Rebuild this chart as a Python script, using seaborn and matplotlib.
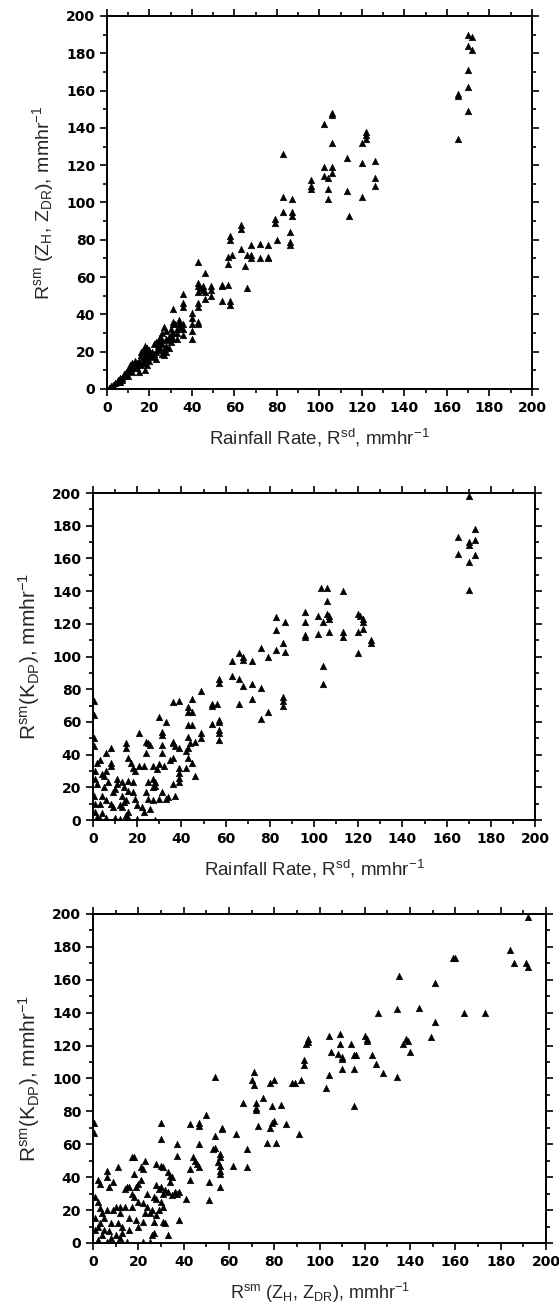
import numpy as np
import pandas as pd
import matplotlib
matplotlib.use("Agg")
import matplotlib.pyplot as plt
from matplotlib.ticker import MultipleLocator
import seaborn as sns

# panel 1: R_sm(ZH, ZDR) vs rainfall rate R_sd
rsd_a = [165, 165, 165, 170, 172, 170, 172, 170, 170, 170,
         102, 106, 106, 106, 102, 102, 104, 106, 106, 104, 104,
         113, 113, 114, 120, 120, 120, 122, 122, 122, 126, 126, 126,
         96, 96, 96, 83, 83, 83, 87, 87, 87, 86, 86, 86, 79, 79, 80,
         63, 63, 63, 58, 58, 57, 59, 57, 57, 58, 58,
         66, 65, 66, 68, 68, 68, 72, 72, 76, 76, 76,
         54, 54, 54, 49, 49, 49, 46, 46, 46, 45, 43, 43, 43, 43, 43, 43, 43, 43, 44, 45,
         40, 40, 40, 40, 40, 36, 36, 36, 36, 36, 36, 34, 34, 31, 31, 31, 31, 31, 33, 33,
         18, 18, 17, 16, 15, 13, 12, 10, 8, 20, 22, 23, 24, 25, 26, 27, 28, 25, 26, 27,
         28, 29, 30, 29, 20, 19, 18, 15, 14, 12, 10, 7, 5, 3, 2, 1, 6, 9, 11, 14,
         16, 17, 19, 21, 22, 24, 26, 28, 30, 32, 33, 35, 4, 5, 7, 8, 9, 11, 13, 23,
         18, 19, 17, 16, 24, 25, 26, 27, 29, 30, 28, 12, 13, 14, 21, 23, 20, 17, 19, 6]
rzz_a = [157, 158, 134, 190, 189, 184, 182, 171, 162, 149,
         142, 148, 147, 132, 119, 114, 113, 119, 116, 107, 102,
         124, 106, 93, 132, 121, 103, 138, 136, 134, 122, 113, 109,
         112, 109, 107, 126, 103, 95, 102, 95, 93, 84, 79, 77, 91, 89, 80,
         88, 86, 75, 82, 80, 71, 72, 67, 56, 47, 45,
         72, 66, 54, 77, 72, 70, 78, 70, 77, 71, 70,
         56, 55, 47, 55, 53, 50, 62, 52, 48, 55, 68, 57, 55, 52, 46, 44, 36, 35, 54, 53,
         41, 38, 35, 31, 27, 51, 46, 44, 35, 32, 29, 37, 35, 43, 36, 35, 30, 27, 32, 27,
         23, 21, 20, 18, 15, 15, 12, 10, 8, 18, 19, 16, 25, 28, 30, 33, 31, 22, 19, 18,
         23, 28, 25, 22, 15, 13, 10, 9, 11, 9, 7, 5, 4, 2, 1.5, 0.5, 6, 8, 13, 14,
         13, 17, 16, 20, 24, 21, 26, 27, 32, 35, 30, 33, 3, 5, 6, 7, 9, 10, 12, 20,
         19, 17, 15, 20, 23, 27, 24, 21, 26, 29, 20, 14, 11, 13, 17, 25, 21, 14, 22, 4]

# panel 2: R_sm(KDP) vs rainfall rate R_sd
rsd_b = [170, 165, 165, 170, 170, 170, 170, 173, 173, 173,
         103, 106, 113, 106, 102, 106, 107, 107, 104, 96, 96, 96, 96, 102, 107, 113, 113, 104, 104,
         120, 121, 122, 122, 122, 120, 120, 126, 126,
         83, 83, 87, 86, 87, 83, 86, 86, 86, 76, 79, 76, 79, 76,
         63, 66, 68, 68, 72, 63, 66, 68, 72, 66, 72,
         57, 57, 57, 57, 57, 57, 57, 54, 56, 54, 54,
         36, 39, 43, 45, 49, 43, 45, 43, 45, 46, 43, 44, 43, 42, 43, 42, 45, 46, 49, 49,
         39, 39, 39, 39, 39, 36, 36, 37, 36, 35, 36, 37,
         30, 33, 31, 31, 31, 31, 30, 32, 31, 30, 33, 34,
         21, 24, 25, 26, 24, 21, 23, 27, 29, 27, 25, 28, 28, 27, 24, 25, 27, 26, 22, 23,
         15, 15, 16, 17, 18, 19, 13, 11, 16, 14, 16, 18, 19, 15, 10, 12, 13, 16, 15, 16,
         6, 8, 8, 8, 6, 3, 2, 4, 1, 2, 5, 7, 4, 6, 3, 8, 9, 1, 4, 2,
         0.5, 0.5, 0.5, 0.5, 1, 0.5, 1, 3, 6, 10, 12, 20, 28, 5, 9, 11, 13, 14, 18, 20]
rkdp_b = [198, 173, 163, 170, 168, 158, 141, 178, 171, 162,
          142, 142, 140, 134, 125, 126, 125, 123, 121, 127, 121, 113, 112, 114, 115, 115, 112, 94, 83,
          126, 125, 123, 121, 117, 115, 102, 110, 108,
          124, 116, 121, 108, 103, 104, 75, 73, 70, 105, 100, 81, 66, 62,
          97, 102, 100, 98, 97, 88, 86, 82, 83, 71, 74,
          86, 84, 61, 60, 55, 53, 49, 71, 71, 70, 59,
          72, 73, 69, 74, 79, 66, 66, 58, 58, 48, 51, 47, 44, 42, 38, 32, 35, 27, 53, 50,
          44, 32, 29, 26, 23, 48, 47, 45, 38, 37, 22, 15,
          63, 60, 54, 52, 46, 41, 34, 33, 17, 13, 13, 14,
          53, 48, 47, 46, 41, 33, 33, 33, 31, 25, 23, 23, 21, 20, 17, 13, 12, 7, 8, 5,
          47, 44, 38, 35, 32, 30, 23, 22, 24, 20, 18, 17, 13, 12, 19, 9, 8, 5, 3, 1,
          41, 44, 35, 33, 30, 37, 35, 28, 25, 22, 20, 23, 15, 12, 10, 10, 8, 5, 4, 2,
          73, 64, 45, 50, 30, 15, 10, 0.5, 1, 1, 0.5, 0.5, 0.3, 27, 17, 25, 15, 11, 23, 9]

# panel 3: R_sm(KDP) vs R_sm(ZH, ZDR)
rzz_c = [192, 184, 186, 191, 192, 159, 160, 135, 151, 164, 173, 126, 134, 144, 151, 149,
         138, 139, 137, 140, 134,
         120, 121, 121, 123, 125, 128, 115, 116, 114, 115, 115,
         104, 109, 109, 105, 108, 110, 110, 110, 103, 104, 95, 95, 94, 93, 93, 92, 91, 88, 89,
         71, 70, 71, 72, 72, 72, 75, 78, 78, 79, 80, 79, 80, 83, 85, 73, 77, 81, 66, 68, 68, 63, 62,
         54, 50, 47, 47, 43, 47, 37, 37, 54, 54, 53, 56, 56, 55, 56, 56, 56, 57, 57, 43, 44,
         45, 46, 47, 43, 51, 51, 56, 41, 38,
         30, 30, 30, 28, 31, 33, 34, 35, 34, 28, 29, 30, 32, 33, 31, 36, 37, 30, 31, 31,
         32, 27, 26, 33, 29, 27, 28, 24, 26, 25, 27,
         17, 18, 23, 21, 22, 18, 11, 6, 6, 9, 2, 3, 7, 14, 15, 16, 19, 20, 21, 17, 18, 20,
         22, 24, 10, 12, 14, 17, 6, 9, 12, 16, 19, 22, 20, 11, 13, 8, 5, 4, 2, 8, 10, 12,
         0.5, 0.5, 1, 2, 3, 4, 1, 3, 5, 1, 2, 15, 22, 25, 6, 13, 7, 16, 23, 28, 35, 38]
rkdp_c = [198, 178, 170, 170, 168, 173, 173, 162, 158, 140, 140, 140, 142, 143, 134, 125,
          124, 123, 121, 116, 101,
          126, 124, 123, 114, 109, 103, 114, 114, 121, 106, 83,
          126, 127, 121, 116, 115, 113, 112, 106, 94, 102, 124, 122, 121, 111, 108, 99, 66, 97, 97,
          104, 99, 96, 85, 82, 81, 88, 97, 70, 83, 74, 73, 99, 84, 72, 71, 61, 61, 85, 57, 46, 66, 47,
          101, 78, 73, 71, 72, 60, 60, 53, 65, 58, 57, 54, 52, 49, 47, 44, 42, 70, 69, 45, 52,
          50, 48, 46, 38, 37, 26, 34, 27, 14,
          73, 63, 47, 48, 46, 43, 41, 40, 37, 35, 33, 34, 32, 31, 30, 31, 30, 25, 22, 13,
          12, 6, 5, 5, 20, 28, 27, 30, 20, 18, 13,
          52, 52, 50, 46, 45, 42, 46, 44, 40, 37, 38, 36, 34, 33, 34, 34, 34, 36, 38, 30, 28, 25,
          24, 22, 22, 22, 22, 22, 20, 20, 18, 15, 14, 13, 10, 12, 10, 12, 8, 5, 2, 3, 5, 3,
          73, 67, 28, 25, 21, 18, 15, 12, 15, 8, 10, 0.5, 0.5, 0.5, 0.5, 6, 7, 8, 18, 17, 29, 31]

lab_rsd = r"Rainfall Rate, R$^{sd}$, mmhr$^{-1}$"
lab_zz = r"R$^{sm}$ (Z$_H$, Z$_{DR}$), mmhr$^{-1}$"
lab_kdp = r"R$^{sm}$(K$_{DP}$), mmhr$^{-1}$"

sns.set_style("ticks")
plt.rcParams["font.family"] = ["Liberation Sans", "DejaVu Sans"]
plt.rcParams["mathtext.fontset"] = "custom"
plt.rcParams["mathtext.rm"] = "Liberation Sans"
plt.rcParams["mathtext.default"] = "regular"

fig = plt.figure(figsize=(5.59, 13.11), dpi=100)

# rect, xlabel size, ylabel size
panels = [
    (rsd_a, rzz_a, lab_rsd, lab_zz, [0.1914, 0.7033, 0.7603, 0.2845], 13.5, 14),
    (rsd_b, rkdp_b, lab_rsd, lab_kdp, [0.1664, 0.3745, 0.7907, 0.2494], 13.5, 15),
    (rzz_c, rkdp_c, lab_zz, lab_kdp, [0.1664, 0.0519, 0.8104, 0.2510], 13, 15),
]

for xs, ys, xl, yl, rect, fx, fy in panels:
    ax = fig.add_axes(rect)
    df = pd.DataFrame({"x": xs, "y": ys})
    sns.scatterplot(data=df, x="x", y="y", ax=ax, marker="^", s=22,
                    color="black", edgecolor="black", linewidth=0.4)
    ax.set_xlim(0, 200)
    ax.set_ylim(0, 200)
    ax.xaxis.set_major_locator(MultipleLocator(20))
    ax.yaxis.set_major_locator(MultipleLocator(20))
    ax.xaxis.set_minor_locator(MultipleLocator(10))
    ax.yaxis.set_minor_locator(MultipleLocator(10))
    ax.tick_params(which="both", direction="out", top=True, right=True,
                   width=1.2, colors="black")
    ax.tick_params(which="major", length=5)
    ax.tick_params(which="minor", length=3)
    for lab in ax.get_xticklabels() + ax.get_yticklabels():
        lab.set_family("DejaVu Sans")
        lab.set_fontweight("bold")
        lab.set_fontsize(10)
    for sp in ax.spines.values():
        sp.set_linewidth(1.4)
        sp.set_color("black")
    ax.set_xlabel(xl, fontsize=fx, labelpad=9)
    ax.set_ylabel(yl, fontsize=fy, labelpad=7)

fig.savefig("out.png", dpi=100)
